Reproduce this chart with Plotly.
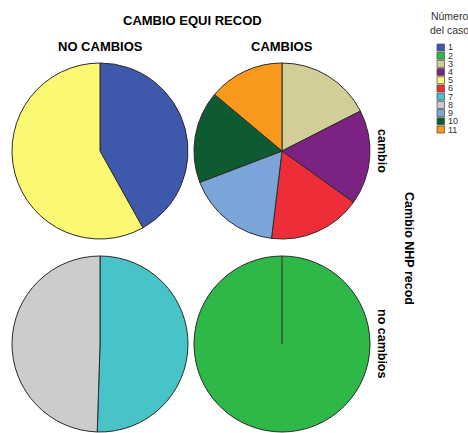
import plotly.graph_objects as go

W, H = 468, 433

# Data
case_ids = ["1", "2", "3", "4", "5", "6", "7", "8", "9", "10", "11"]
case_colors = ["#3e58ac", "#2eb848", "#d3ce97", "#7b2282", "#fbf873", "#ed2e38",
               "#48c4c8", "#cccccc", "#7ba4d8", "#0e5a31", "#f8981d"]

col_labels = ["NO CAMBIOS", "CAMBIOS"]
row_labels = ["cambio", "no cambios"]

# panel (row, col): cases and values
p_cambio_nocambios_cases = ["1", "5"]
p_cambio_nocambios_vals = [41.9, 58.1]
p_cambio_cambios_cases = ["3", "4", "6", "9", "10", "11"]
p_cambio_cambios_vals = [17.5, 17.4, 17.0, 17.3, 16.9, 13.9]
p_nocambio_nocambios_cases = ["7", "8"]
p_nocambio_nocambios_vals = [50.5, 49.5]
p_nocambio_cambios_cases = ["2"]
p_nocambio_cambios_vals = [100.0]

panels = [
    (0, 0, p_cambio_nocambios_cases, p_cambio_nocambios_vals),
    (0, 1, p_cambio_cambios_cases, p_cambio_cambios_vals),
    (1, 0, p_nocambio_nocambios_cases, p_nocambio_nocambios_vals),
    (1, 1, p_nocambio_cambios_cases, p_nocambio_cambios_vals),
]

def px_x(v):
    return v / W

def px_y(v):
    return 1 - v / H

col_x = [(12, 188), (194, 370)]
row_y = [(63, 239), (256, 432)]

color_map = dict(zip(case_ids, case_colors))
OUTLINE = "#2b2b2b"
FONT = "Arial, Liberation Sans, sans-serif"

fig = go.Figure()
shapes = []
for r, c, cases, vals in panels:
    x0, x1 = col_x[c]
    y0, y1 = row_y[r]
    fig.add_trace(go.Pie(
        labels=cases, values=vals,
        marker=dict(colors=[color_map[k] for k in cases], line=dict(color=OUTLINE, width=1)),
        sort=False, direction="clockwise", rotation=0,
        textinfo="none", hoverinfo="label+percent", showlegend=False,
        domain=dict(x=[px_x(x0), px_x(x1)], y=[px_y(y1), px_y(y0)]),
    ))
    if len(vals) == 1:
        cx = (x0 + x1) / 2
        cy = (y0 + y1) / 2
        shapes.append(dict(type="line", xref="paper", yref="paper",
                           x0=px_x(cx), x1=px_x(cx), y0=px_y(y0), y1=px_y(cy),
                           line=dict(color=OUTLINE, width=1)))

def ann(text, x, y, size, xanchor="center", yanchor="middle", angle=0, color="#000", align="center"):
    return dict(text=text, x=px_x(x), y=px_y(y), xref="paper", yref="paper",
                showarrow=False, xanchor=xanchor, yanchor=yanchor, textangle=angle,
                align=align, font=dict(size=size, family=FONT, color=color))

annotations = []
annotations.append(ann("<b>CAMBIO EQUI RECOD</b>", 192, 20, 13))
for i, lab in enumerate(col_labels):
    cx = sum(col_x[i]) / 2
    annotations.append(ann("<b>%s</b>" % lab, cx, 46, 13))
for i, lab in enumerate(row_labels):
    cy = sum(row_y[i]) / 2
    annotations.append(ann("<b>%s</b>" % lab, 382, cy, 12.5, angle=90))
annotations.append(ann("<b>Cambio NHP recod</b>", 409, 248, 12.5, angle=90))

# Legend (manual, compact like the original)
annotations.append(ann("Número<br>del caso", 449, 23, 10.5, color="#333"))
leg_top = 44
leg_step = 8.2
for i, (cid, col) in enumerate(zip(case_ids, case_colors)):
    yc = leg_top + i * leg_step + 3.5
    shapes.append(dict(type="rect", xref="paper", yref="paper",
                       x0=px_x(437), x1=px_x(444.5), y0=px_y(yc + 3.5), y1=px_y(yc - 3.5),
                       fillcolor=col, line=dict(color="#555", width=0.8)))
    annotations.append(ann(cid, 446, yc, 9, xanchor="left", color="#333"))

fig.update_layout(width=W, height=H, margin=dict(l=0, r=0, t=0, b=0),
                  paper_bgcolor="white", plot_bgcolor="white",
                  annotations=annotations, shapes=shapes)
fig.write_html("out.html", config={"displayModeBar": False},
               post_script="document.body.style.margin='0px';")
